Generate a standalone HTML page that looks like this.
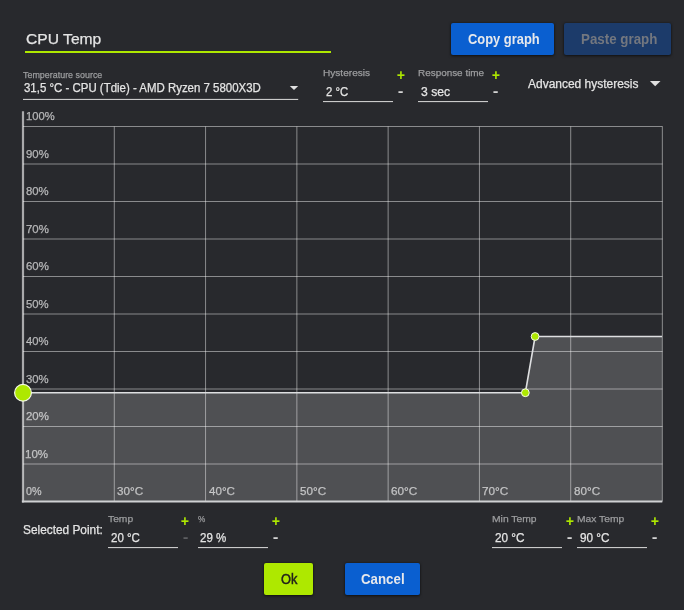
<!DOCTYPE html>
<html><head><meta charset="utf-8"><title>CPU Temp</title>
<style>
html,body{margin:0;padding:0;background:#28292d;}
body{width:684px;height:610px;position:relative;overflow:hidden;font-family:"Liberation Sans",sans-serif;}
.t{position:absolute;white-space:pre;line-height:1;transform-origin:0 50%;-webkit-text-stroke:0.25px currentColor;}
.g{position:absolute;left:0;top:0;}
.b{position:absolute;border-radius:2px;box-shadow:0 1px 3px rgba(0,0,0,.55),0 0 2px rgba(0,0,0,.35);}
</style></head><body>
<svg class="g" width="684" height="610" viewBox="0 0 684 610"><path d="M23.0,501.5 L23.00,392.75 L525.35,392.75 L535.11,336.50 L662.00,336.50 L662.0,501.5 Z" fill="#ffffff" fill-opacity="0.185"/><line x1="23.0" x2="662.5" y1="464.0" y2="464.0" stroke="rgba(255,255,255,0.46)" stroke-width="1"/><line x1="23.0" x2="662.5" y1="426.5" y2="426.5" stroke="rgba(255,255,255,0.46)" stroke-width="1"/><line x1="23.0" x2="662.5" y1="389.0" y2="389.0" stroke="rgba(255,255,255,0.46)" stroke-width="1"/><line x1="23.0" x2="662.5" y1="351.5" y2="351.5" stroke="rgba(255,255,255,0.46)" stroke-width="1"/><line x1="23.0" x2="662.5" y1="314.0" y2="314.0" stroke="rgba(255,255,255,0.46)" stroke-width="1"/><line x1="23.0" x2="662.5" y1="276.5" y2="276.5" stroke="rgba(255,255,255,0.46)" stroke-width="1"/><line x1="23.0" x2="662.5" y1="239.0" y2="239.0" stroke="rgba(255,255,255,0.46)" stroke-width="1"/><line x1="23.0" x2="662.5" y1="201.5" y2="201.5" stroke="rgba(255,255,255,0.46)" stroke-width="1"/><line x1="23.0" x2="662.5" y1="164.0" y2="164.0" stroke="rgba(255,255,255,0.46)" stroke-width="1"/><line x1="23.0" x2="662.5" y1="126.5" y2="126.5" stroke="rgba(255,255,255,0.46)" stroke-width="1"/><line x1="114.29" x2="114.29" y1="126.5" y2="501.5" stroke="rgba(255,255,255,0.46)" stroke-width="1"/><line x1="205.57" x2="205.57" y1="126.5" y2="501.5" stroke="rgba(255,255,255,0.46)" stroke-width="1"/><line x1="296.86" x2="296.86" y1="126.5" y2="501.5" stroke="rgba(255,255,255,0.46)" stroke-width="1"/><line x1="388.14" x2="388.14" y1="126.5" y2="501.5" stroke="rgba(255,255,255,0.46)" stroke-width="1"/><line x1="479.43" x2="479.43" y1="126.5" y2="501.5" stroke="rgba(255,255,255,0.46)" stroke-width="1"/><line x1="570.71" x2="570.71" y1="126.5" y2="501.5" stroke="rgba(255,255,255,0.46)" stroke-width="1"/><line x1="662.35" x2="662.35" y1="126.5" y2="501.5" stroke="rgba(255,255,255,0.46)" stroke-width="1"/><line x1="23.0" x2="23.0" y1="111.3" y2="502.5" stroke="rgba(255,255,255,0.6)" stroke-width="2.2"/><line x1="21.9" x2="662.3" y1="501.5" y2="501.5" stroke="#d0d1d3" stroke-width="2"/><path d="M23.00,392.75 L525.35,392.75 L535.11,336.50 L662.00,336.50" fill="none" stroke="#dedfe1" stroke-width="1.6" stroke-linejoin="round"/><circle cx="23.00" cy="392.75" r="8.4" fill="#aee800" stroke="#f4f8e8" stroke-width="1.2"/><circle cx="525.35" cy="392.75" r="3.9" fill="#aee800" stroke="#f6f9ec" stroke-width="1.0"/><circle cx="535.11" cy="336.50" r="3.9" fill="#aee800" stroke="#f6f9ec" stroke-width="1.0"/><rect x="25" y="51" width="306" height="2" fill="#aee800"/><rect x="23" y="98.9" width="275.2" height="1" fill="#dcdcdc"/><path d="M289.8,85.9 L298.2,85.9 L294,90.1 Z" fill="#e0e0e0"/><path d="M649.9,81 L660.5,81 L655.2,86.3 Z" fill="#e0e0e0"/><rect x="323" y="101.1" width="70" height="1" fill="#dcdcdc"/><rect x="418" y="101.1" width="70" height="1" fill="#dcdcdc"/><rect x="108" y="547.1" width="70" height="1" fill="#dcdcdc"/><rect x="198" y="547.1" width="70" height="1" fill="#dcdcdc"/><rect x="492" y="547.1" width="70" height="1" fill="#dcdcdc"/><rect x="577" y="547.1" width="70" height="1" fill="#dcdcdc"/></svg>
<div class="b" style="left:451px;top:23px;width:103px;height:32px;background:#0a5fd0"></div><div class="b" style="left:564px;top:23px;width:107px;height:32px;background:#1c3b6a"></div><div class="b" style="left:264px;top:563px;width:49px;height:32px;background:#aee800"></div><div class="b" style="left:345px;top:563px;width:75px;height:32px;background:#0a5fd0"></div>
<span class="t" style="left:25.57px;top:30.78px;font-size:15.5px;color:#e4e4e4;font-weight:400;-webkit-text-stroke-width:0.25px;transform:scaleX(1.0084)">CPU Temp</span><span class="t" style="left:22.86px;top:70.12px;font-size:9.9px;color:#9c9d9f;font-weight:400;-webkit-text-stroke-width:0.25px;transform:scaleX(0.9030)">Temperature source</span><span class="t" style="left:23.64px;top:81.84px;font-size:12px;color:#e4e4e4;font-weight:400;-webkit-text-stroke-width:0.25px;transform:scaleX(0.9541)">31,5 °C - CPU (Tdie) - AMD Ryzen 7 5800X3D</span><span class="t" style="left:323.21px;top:68.32px;font-size:9.9px;color:#9c9d9f;font-weight:400;-webkit-text-stroke-width:0.25px;transform:scaleX(1.0216)">Hysteresis</span><span class="t" style="left:326.27px;top:85.84px;font-size:12px;color:#e4e4e4;font-weight:400;-webkit-text-stroke-width:0.25px;transform:scaleX(0.9469)">2 °C</span><span class="t" style="left:418.22px;top:68.32px;font-size:9.9px;color:#9c9d9f;font-weight:400;-webkit-text-stroke-width:0.25px;transform:scaleX(1.0037)">Response time</span><span class="t" style="left:420.62px;top:85.84px;font-size:12px;color:#e4e4e4;font-weight:400;-webkit-text-stroke-width:0.25px;transform:scaleX(1.0135)">3 sec</span><span class="t" style="left:528.20px;top:77.64px;font-size:12px;color:#e4e4e4;font-weight:400;-webkit-text-stroke-width:0.25px;transform:scaleX(0.9977)">Advanced hysteresis</span><span class="t" style="left:467.50px;top:32.15px;font-size:14px;color:#e6e8ec;font-weight:700;-webkit-text-stroke-width:0px;transform:scaleX(0.9222)">Copy graph</span><span class="t" style="left:580.77px;top:32.15px;font-size:14px;color:#73777f;font-weight:700;-webkit-text-stroke-width:0px;transform:scaleX(0.9531)">Paste graph</span><span class="t" style="left:22.83px;top:524.04px;font-size:12px;color:#e4e4e4;font-weight:400;-webkit-text-stroke-width:0.25px;transform:scaleX(0.9879)">Selected Point:</span><span class="t" style="left:108.04px;top:514.12px;font-size:9.9px;color:#9c9d9f;font-weight:400;-webkit-text-stroke-width:0.25px;transform:scaleX(1.0401)">Temp</span><span class="t" style="left:110.96px;top:531.94px;font-size:12px;color:#e4e4e4;font-weight:400;-webkit-text-stroke-width:0.25px;transform:scaleX(0.9600)">20 °C</span><span class="t" style="left:197.84px;top:514.12px;font-size:9.9px;color:#9c9d9f;font-weight:400;-webkit-text-stroke-width:0.25px;transform:scaleX(0.8294)">%</span><span class="t" style="left:199.96px;top:531.94px;font-size:12px;color:#e4e4e4;font-weight:400;-webkit-text-stroke-width:0.25px;transform:scaleX(0.9610)">29 %</span><span class="t" style="left:491.69px;top:514.12px;font-size:9.9px;color:#9c9d9f;font-weight:400;-webkit-text-stroke-width:0.25px;transform:scaleX(1.0446)">Min Temp</span><span class="t" style="left:494.95px;top:531.94px;font-size:12px;color:#e4e4e4;font-weight:400;-webkit-text-stroke-width:0.25px;transform:scaleX(0.9805)">20 °C</span><span class="t" style="left:576.70px;top:514.12px;font-size:9.9px;color:#9c9d9f;font-weight:400;-webkit-text-stroke-width:0.25px;transform:scaleX(1.0407)">Max Temp</span><span class="t" style="left:579.95px;top:531.94px;font-size:12px;color:#e4e4e4;font-weight:400;-webkit-text-stroke-width:0.25px;transform:scaleX(0.9771)">90 °C</span><span class="t" style="left:280.60px;top:572.15px;font-size:14px;color:#22231c;font-weight:400;-webkit-text-stroke-width:0.45px;transform:scaleX(0.9168)">Ok</span><span class="t" style="left:361.28px;top:572.15px;font-size:14px;color:#e6e8ec;font-weight:700;-webkit-text-stroke-width:0px;transform:scaleX(0.9497)">Cancel</span><span class="t" style="left:25.86px;top:485.79px;font-size:11px;color:rgba(255,255,255,0.57);font-weight:400;-webkit-text-stroke-width:0.25px;transform:scaleX(0.9785)">0%</span><span class="t" style="left:25.48px;top:448.79px;font-size:11px;color:rgba(255,255,255,0.57);font-weight:400;-webkit-text-stroke-width:0.25px;transform:scaleX(1.0476)">10%</span><span class="t" style="left:25.66px;top:410.79px;font-size:11px;color:rgba(255,255,255,0.57);font-weight:400;-webkit-text-stroke-width:0.25px;transform:scaleX(1.0391)">20%</span><span class="t" style="left:25.85px;top:373.79px;font-size:11px;color:rgba(255,255,255,0.57);font-weight:400;-webkit-text-stroke-width:0.25px;transform:scaleX(1.0307)">30%</span><span class="t" style="left:26.02px;top:335.79px;font-size:11px;color:rgba(255,255,255,0.57);font-weight:400;-webkit-text-stroke-width:0.25px;transform:scaleX(1.0225)">40%</span><span class="t" style="left:25.85px;top:298.79px;font-size:11px;color:rgba(255,255,255,0.57);font-weight:400;-webkit-text-stroke-width:0.25px;transform:scaleX(1.0307)">50%</span><span class="t" style="left:25.66px;top:260.79px;font-size:11px;color:rgba(255,255,255,0.57);font-weight:400;-webkit-text-stroke-width:0.25px;transform:scaleX(1.0391)">60%</span><span class="t" style="left:25.66px;top:223.79px;font-size:11px;color:rgba(255,255,255,0.57);font-weight:400;-webkit-text-stroke-width:0.25px;transform:scaleX(1.0391)">70%</span><span class="t" style="left:25.85px;top:185.79px;font-size:11px;color:rgba(255,255,255,0.57);font-weight:400;-webkit-text-stroke-width:0.25px;transform:scaleX(1.0307)">80%</span><span class="t" style="left:25.66px;top:148.79px;font-size:11px;color:rgba(255,255,255,0.57);font-weight:400;-webkit-text-stroke-width:0.25px;transform:scaleX(1.0391)">90%</span><span class="t" style="left:26.40px;top:110.79px;font-size:11px;color:rgba(255,255,255,0.57);font-weight:400;-webkit-text-stroke-width:0.25px;transform:scaleX(1.0177)">100%</span><span class="t" style="left:117.12px;top:485.69px;font-size:11px;color:rgba(255,255,255,0.57);font-weight:400;-webkit-text-stroke-width:0.25px;transform:scaleX(1.0607)">30°C</span><span class="t" style="left:208.59px;top:485.69px;font-size:11px;color:rgba(255,255,255,0.57);font-weight:400;-webkit-text-stroke-width:0.25px;transform:scaleX(1.0531)">40°C</span><span class="t" style="left:299.69px;top:485.69px;font-size:11px;color:rgba(255,255,255,0.57);font-weight:400;-webkit-text-stroke-width:0.25px;transform:scaleX(1.0607)">50°C</span><span class="t" style="left:390.79px;top:485.69px;font-size:11px;color:rgba(255,255,255,0.57);font-weight:400;-webkit-text-stroke-width:0.25px;transform:scaleX(1.0684)">60°C</span><span class="t" style="left:482.08px;top:485.69px;font-size:11px;color:rgba(255,255,255,0.57);font-weight:400;-webkit-text-stroke-width:0.25px;transform:scaleX(1.0684)">70°C</span><span class="t" style="left:573.55px;top:485.69px;font-size:11px;color:rgba(255,255,255,0.57);font-weight:400;-webkit-text-stroke-width:0.25px;transform:scaleX(1.0607)">80°C</span><span class="t" style="left:396.53px;top:66.84px;font-size:15px;color:#aee800;font-weight:700;-webkit-text-stroke-width:0.2px;transform:scaleX(0.8921)">+</span><span class="t" style="left:397.71px;top:82.97px;font-size:15px;color:#d4d4d4;font-weight:700;-webkit-text-stroke-width:0.2px;transform:scaleX(1.0541)">-</span><span class="t" style="left:491.53px;top:66.84px;font-size:15px;color:#aee800;font-weight:700;-webkit-text-stroke-width:0.2px;transform:scaleX(0.8921)">+</span><span class="t" style="left:492.71px;top:82.97px;font-size:15px;color:#d4d4d4;font-weight:700;-webkit-text-stroke-width:0.2px;transform:scaleX(1.0541)">-</span><span class="t" style="left:181.33px;top:512.94px;font-size:15px;color:#aee800;font-weight:700;-webkit-text-stroke-width:0.2px;transform:scaleX(0.8921)">+</span><span class="t" style="left:182.61px;top:528.87px;font-size:15px;color:#5e5f62;font-weight:700;-webkit-text-stroke-width:0.2px;transform:scaleX(1.0541)">-</span><span class="t" style="left:271.53px;top:512.94px;font-size:15px;color:#aee800;font-weight:700;-webkit-text-stroke-width:0.2px;transform:scaleX(0.8921)">+</span><span class="t" style="left:272.61px;top:528.87px;font-size:15px;color:#d4d4d4;font-weight:700;-webkit-text-stroke-width:0.2px;transform:scaleX(1.0541)">-</span><span class="t" style="left:565.73px;top:512.94px;font-size:15px;color:#aee800;font-weight:700;-webkit-text-stroke-width:0.2px;transform:scaleX(0.8921)">+</span><span class="t" style="left:567.21px;top:528.87px;font-size:15px;color:#d4d4d4;font-weight:700;-webkit-text-stroke-width:0.2px;transform:scaleX(1.0541)">-</span><span class="t" style="left:651.03px;top:512.94px;font-size:15px;color:#aee800;font-weight:700;-webkit-text-stroke-width:0.2px;transform:scaleX(0.8921)">+</span><span class="t" style="left:652.41px;top:528.87px;font-size:15px;color:#d4d4d4;font-weight:700;-webkit-text-stroke-width:0.2px;transform:scaleX(1.0541)">-</span>
</body></html>
